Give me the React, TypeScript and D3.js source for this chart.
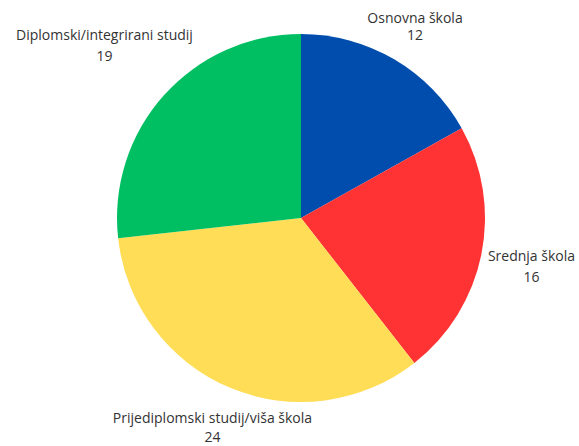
import React from "react";
import * as d3 from "d3";

const categories = ["Osnovna škola", "Srednja škola", "Prijediplomski studij/viša škola", "Diplomski/integrirani studij"];
const values = [12, 16, 24, 19];
const colors = ["#004DAE", "#FF3333", "#FFDD57", "#00BF63"];
// label offsets relative to the outer point at mid-angle (layout tweak)
const labelOffsets: [number, number][] = [
  [15.8, -28],
  [40.3, 4.6],
  [-13.3, 26],
  [-52, -48.5],
];
const lineGaps = [17.5, 21, 19, 21];

const W = 579;
const H = 446;
const cx = 301;
const cy = 218;
const R = 184;

export default function App() {
  const pie = d3.pie<number>().sort(null).value((d) => d);
  const arcs = pie(values);
  const arc = d3.arc<d3.PieArcDatum<number>>().innerRadius(0).outerRadius(R);
  return (
    <svg width={W} height={H} style={{ position: "absolute", left: 0, top: 0 }}>
      <g transform={`translate(${cx},${cy})`}>
        {arcs.map((a, i) => (
          <path key={i} d={arc(a) || ""} fill={colors[i]} />
        ))}
        {arcs.map((a, i) => {
          const mid = (a.startAngle + a.endAngle) / 2;
          const x = Math.sin(mid) * (R + 10) + labelOffsets[i][0];
          const y = -Math.cos(mid) * (R + 10) + labelOffsets[i][1];
          return (
            <text
              key={"t" + i}
              x={x}
              y={y}
              textAnchor="middle"
              fontFamily="'Open Sans', sans-serif"
              fontSize={14}
              fill="#333333"
            >
              <tspan x={x} dy={0}>{categories[i]}</tspan>
              <tspan x={x} dy={lineGaps[i]}>{values[i]}</tspan>
            </text>
          );
        })}
      </g>
    </svg>
  );
}
